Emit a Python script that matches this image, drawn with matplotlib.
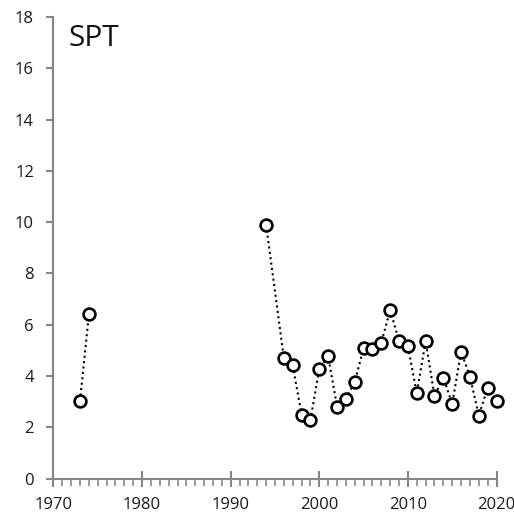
import numpy as np
import matplotlib
matplotlib.use('Agg')
import matplotlib.pyplot as plt
from matplotlib.ticker import MultipleLocator

# annual SPT values; NaN breaks the line across the missing years
years = [1973, 1974, 1975,
         1994, 1996, 1997, 1998, 1999, 2000, 2001, 2002, 2003, 2004,
         2005, 2006, 2007, 2008, 2009, 2010, 2011, 2012, 2013, 2014,
         2015, 2016, 2017, 2018, 2019, 2020]
spt = [3.03, 6.41, np.nan,
       9.89, 4.70, 4.42, 2.50, 2.29, 4.29, 4.77, 2.81, 3.11, 3.76,
       5.10, 5.06, 5.30, 6.58, 5.36, 5.16, 3.33, 5.36, 3.22, 3.94,
       2.91, 4.95, 3.98, 2.46, 3.54, 3.04]

plt.rcParams['font.family'] = ['Open Sans', 'DejaVu Sans']
AX = '#868686'

fig = plt.figure(figsize=(5.14, 5.13), dpi=100)
ax = fig.add_axes([0.104, 0.067, 0.862, 0.900])

ax.plot(years, spt, linestyle=(0, (1, 1.6)), color='black', lw=1.5,
        marker='o', ms=8.5, mfc='white', mec='black', mew=1.9, zorder=3,
        clip_on=False)

ax.set_xlim(1970, 2020)
ax.set_ylim(0, 18)
ax.xaxis.set_major_locator(MultipleLocator(10))
ax.xaxis.set_minor_locator(MultipleLocator(1))
ax.yaxis.set_major_locator(MultipleLocator(2))

for sp in ('top', 'right'):
    ax.spines[sp].set_visible(False)
for sp in ('left', 'bottom'):
    ax.spines[sp].set_color(AX)
    ax.spines[sp].set_linewidth(1.5)

ax.tick_params(axis='x', which='major', direction='inout', length=12,
               width=1.5, color=AX, labelsize=12, pad=7, labelcolor='#1a1a1a')
ax.tick_params(axis='x', which='minor', direction='out', length=5,
               width=1.2, color=AX)
ax.tick_params(axis='y', which='major', direction='out', length=5,
               width=1.5, color=AX, labelsize=12, pad=9, labelcolor='#1a1a1a')

# the last year label runs past the figure edge
for lab in ax.get_xticklabels():
    lab.set_clip_on(False)

ax.text(0.035, 0.985, 'SPT', transform=ax.transAxes, fontsize=21.5,
        ha='left', va='top', color='#111111')

fig.savefig('out.png', dpi=100, facecolor='white')
